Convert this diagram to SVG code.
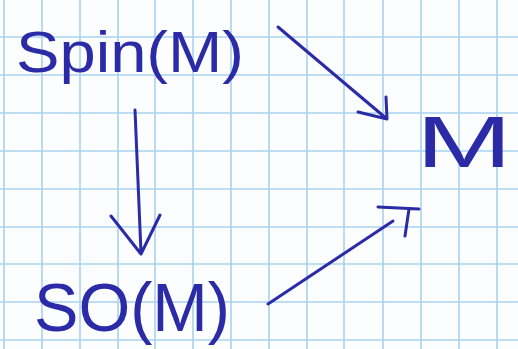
<svg xmlns="http://www.w3.org/2000/svg" width="518" height="349" viewBox="0 0 518 349">
<style>
.grid{stroke:#a9d2ee;stroke-width:1.6}
.ink{fill:#2b2ba8;font-family:"Liberation Sans","DejaVu Sans",sans-serif}
.edge{fill:none;stroke:#2b2ba8;stroke-width:3;stroke-linecap:round;stroke-linejoin:round}
</style>
<rect width="518" height="349" fill="#fbfdff"/>
<g id="grid">
<path class="grid" d="M4,0V349M42,0V349M80,0V349M118,0V349M155,0V349M193,0V349M231,0V349M269,0V349M307,0V349M344,0V349M383,0V349M421,0V349M459,0V349M497,0V349"/>
<path class="grid" d="M0,37H518M0,75H518M0,113H518M0,151H518M0,189H518M0,227H518M0,264H518M0,302H518M0,340H518"/>
</g>
<g id="connectors">
<path class="edge" d="M278,27L387,119M358,112L387,119L386,97"/>
<path class="edge" d="M135,110L141,253M111,216L141,254L160,215"/>
<path class="edge" d="M268,304L393,221M378,207L419,209M409,209L405,236"/>
</g>
<g id="spin">
<text class="ink" x="16" y="72" font-size="58" textLength="228" lengthAdjust="spacingAndGlyphs">Spin(M)</text>
</g>
<g id="m">
<text class="ink" x="416" y="167" font-size="72" textLength="96" lengthAdjust="spacingAndGlyphs">M</text>
</g>
<g id="so">
<text class="ink" x="34" y="331" font-size="68" textLength="196" lengthAdjust="spacingAndGlyphs">SO(M)</text>
</g>
</svg>
